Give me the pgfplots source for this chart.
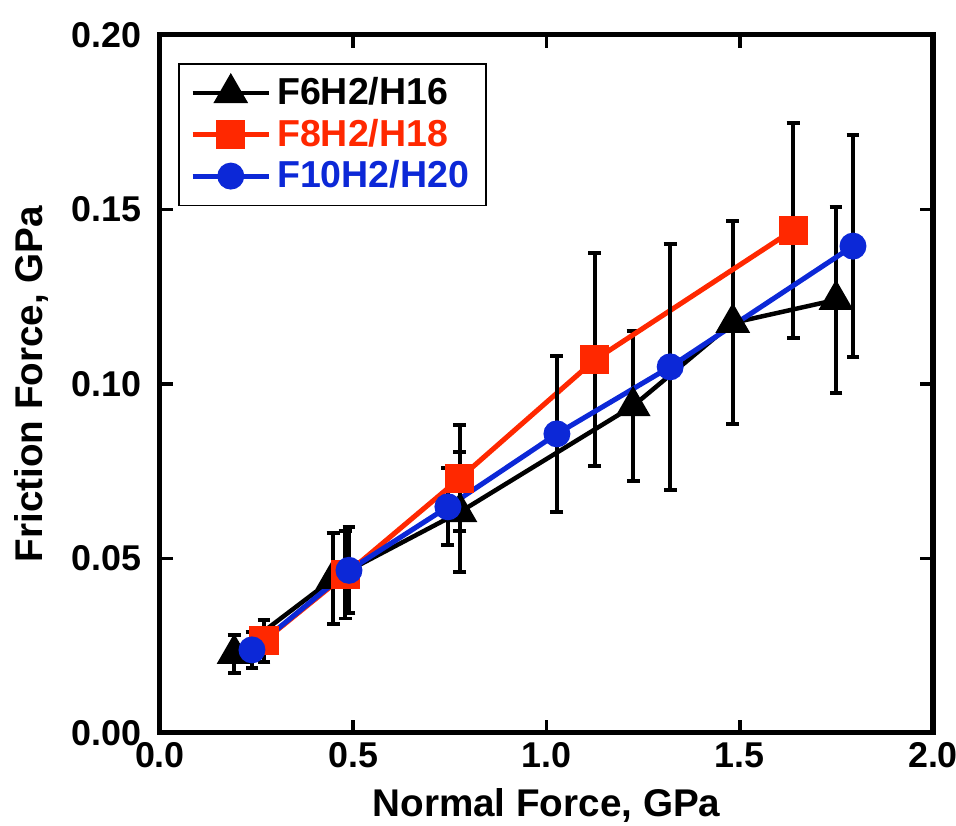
\documentclass[border=0pt]{standalone}
\usepackage{fontspec}
\setmainfont{Liberation Sans}
\usepackage{pgfplots}
\pgfplotsset{compat=1.18}
\usepackage{pgfplotstable}

\definecolor{fred}{RGB}{255,40,0}
\definecolor{fblue}{RGB}{12,40,215}
\newcommand\tickfont{\fontsize{12.8pt}{15pt}\selectfont\bfseries}
\newcommand\lblfont{\fontsize{13.8pt}{16pt}\selectfont\bfseries}
\newcommand\legfont{\fontsize{13.4pt}{15pt}\selectfont\bfseries}

% x, y, y error
\pgfplotstableread{
x     y      e
0.192 0.0227 0.0054
0.448 0.0442 0.0130
0.776 0.0633 0.0172
1.224 0.0937 0.0215
1.482 0.1175 0.0291
1.749 0.1241 0.0266
}\tabA
\pgfplotstableread{
x     y      e
0.269 0.0264 0.0060
0.479 0.0453 0.0125
0.776 0.0730 0.0152
1.125 0.1069 0.0305
1.638 0.1441 0.0308
}\tabB
\pgfplotstableread{
x     y      e
0.238 0.0238 0.0051
0.489 0.0466 0.0123
0.745 0.0648 0.0110
1.027 0.0857 0.0223
1.320 0.1049 0.0352
1.793 0.1395 0.0318
}\tabC

\begin{document}
\begin{tikzpicture}
\begin{axis}[
    scale only axis,
    width=9.703cm, height=8.761cm,
    xmin=0, xmax=2, ymin=0, ymax=0.2,
    xtick={0,0.5,...,2}, ytick={0,0.05,...,0.2},
    minor tick num=0,
    tick pos=both, tick align=inside,
    major tick length=4.7pt,
    axis line style={line width=1.8pt},
    every tick/.style={black, line width=1.4pt},
    xticklabel style={/pgf/number format/.cd, fixed, fixed zerofill, precision=1},
    yticklabel style={xshift=-3pt, /pgf/number format/.cd, fixed, fixed zerofill, precision=2},
    /pgf/number format/assume math mode=true,
    scaled y ticks=false,
    ticklabel style={font=\tickfont},
    label style={font=\lblfont},
    xlabel={Normal Force, GPa},
    ylabel={Friction Force, GPa},
    xlabel style={at={(axis description cs:0.5,-0.1203)}, anchor=base},
    ylabel style={at={(axis description cs:-0.1514,0.5)}, anchor=base, rotate=0},
    legend style={at={(0.0233,0.960)}, anchor=north west, draw=black, line width=0.6pt,
        font=\legfont, row sep=-0.4pt, inner xsep=4pt, inner ysep=2.9pt},
    legend cell align=left,
    legend image code/.code={\draw[mark repeat=2,mark phase=2,#1] plot coordinates {(0cm,0cm) (0.48cm,0cm) (0.96cm,0cm)};},
    error bars/y dir=both, error bars/y explicit,
    error bars/error bar style={black, line width=1.4pt},
    error bars/error mark options={black, rotate=90, mark size=2.3pt, line width=1.4pt},
]
\addplot[black, line width=1.6pt, mark=triangle*, mark size=5.6pt, mark options={solid}]
    table[x=x, y=y, y error=e] {\tabA};
\addlegendentry{F6H2/H16}
\addplot[fred, line width=1.8pt, mark=square*, mark size=4.3pt, mark options={solid}]
    table[x=x, y=y, y error=e] {\tabB};
\addlegendentry{\textcolor{fred}{F8H2/H18}}
\addplot[fblue, line width=1.8pt, mark=*, mark size=3.9pt, mark options={solid}]
    table[x=x, y=y, y error=e] {\tabC};
\addlegendentry{\textcolor{fblue}{F10H2/H20}}
\end{axis}
\pgfresetboundingbox
\path ([shift={(-2.008cm,-1.167cm)}]current axis.south west)
    rectangle ([shift={(0.289cm,0.439cm)}]current axis.north east);
\end{tikzpicture}
\end{document}
